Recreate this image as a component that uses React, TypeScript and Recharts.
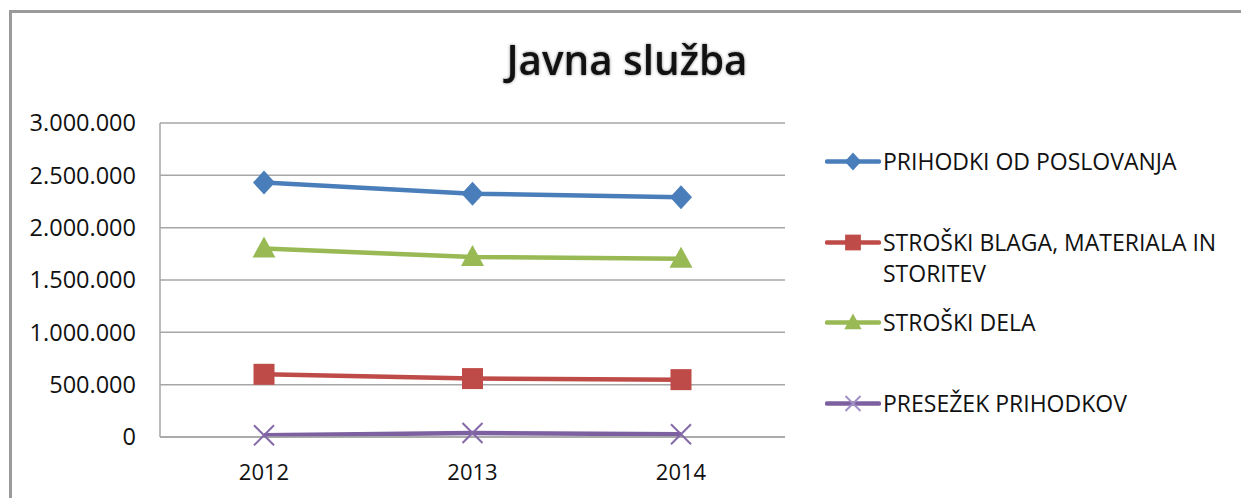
import React from "react";
import { LineChart, Line, XAxis, YAxis, CartesianGrid } from "recharts";

const years = ["2012", "2013", "2014"];
const prihodki = [2431000, 2325000, 2290000];
const stroskiBlaga = [599000, 558000, 548000];
const stroskiDela = [1800000, 1720000, 1704000];
const presezek = [16000, 38000, 26000];
const yTicks = [0, 500000, 1000000, 1500000, 2000000, 2500000, 3000000];

const FONT = "'Open Sans', 'Noto Sans', sans-serif";

type Kind = "diamond" | "square" | "triangle" | "cross";

const series: { key: string; name: string[]; color: string; kind: Kind }[] = [
  { key: "prihodki", name: ["PRIHODKI OD POSLOVANJA"], color: "#4a7ebb", kind: "diamond" },
  { key: "blago", name: ["STROŠKI BLAGA, MATERIALA IN", "STORITEV"], color: "#be4b48", kind: "square" },
  { key: "dela", name: ["STROŠKI DELA"], color: "#98b954", kind: "triangle" },
  { key: "presezek", name: ["PRESEŽEK PRIHODKOV"], color: "#7d60a0", kind: "cross" },
];

const data = years.map((y, i) => ({
  year: y,
  prihodki: prihodki[i],
  blago: stroskiBlaga[i],
  dela: stroskiDela[i],
  presezek: presezek[i],
}));

const fmt = (v: number) => String(v).replace(/\B(?=(\d{3})+(?!\d))/g, ".");

function Marker({ cx, cy, kind, color, s = 1 }: { cx: number; cy: number; kind: Kind; color: string; s?: number }) {
  if (kind === "diamond") {
    return (
      <polygon
        points={`${cx},${cy - 12 * s} ${cx + 11 * s},${cy} ${cx},${cy + 12 * s} ${cx - 11 * s},${cy}`}
        fill={color}
      />
    );
  }
  if (kind === "square") {
    return <rect x={cx - 10.5 * s} y={cy - 10.5 * s} width={21 * s} height={21 * s} fill={color} />;
  }
  if (kind === "triangle") {
    return (
      <polygon
        points={`${cx},${cy - 12 * s} ${cx + 11.5 * s},${cy + 9 * s} ${cx - 11.5 * s},${cy + 9 * s}`}
        fill={color}
      />
    );
  }
  const d = 10 * s;
  return (
    <g stroke={s < 1 ? "#a08fc4" : "#8468a8"} strokeWidth={2}>
      <line x1={cx - d} y1={cy - d} x2={cx + d} y2={cy + d} />
      <line x1={cx - d} y1={cy + d} x2={cx + d} y2={cy - d} />
    </g>
  );
}

function Legend() {
  return (
    <div style={{ position: "absolute", left: 825, top: 0 }}>
      {series.map((s, i) => {
        const cy = 161.5 + i * 80.5;
        return (
          <div key={s.key} style={{ position: "absolute", left: 0, top: cy - 15.5, width: 420 }}>
            <svg width={56} height={31} style={{ position: "absolute", left: 0, top: 0 }}>
              <line x1={2} y1={15.5} x2={54} y2={15.5} stroke={s.color} strokeWidth={4.5} strokeLinecap="round" />
              <Marker cx={28} cy={15.5} kind={s.kind} color={s.color} s={0.75} />
            </svg>
            <div
              style={{
                position: "absolute",
                left: 58,
                top: 0,
                fontFamily: FONT,
                fontSize: 23,
                lineHeight: "31px",
                color: "#111",
                whiteSpace: "nowrap",
              }}
            >
              {s.name.map((n) => (
                <div key={n}>{n}</div>
              ))}
            </div>
          </div>
        );
      })}
    </div>
  );
}

export default function App() {
  return (
    <div style={{ position: "absolute", left: 0, top: 0, width: 1241, height: 498, background: "#fff", overflow: "hidden" }}>
      <div
        style={{
          position: "absolute",
          left: 9,
          top: 10,
          width: 1241,
          height: 498,
          borderTop: "3px solid #9a9a9a",
          borderLeft: "3px solid #9a9a9a",
        }}
      />
      <svg width={1241} height={100} style={{ position: "absolute", left: 0, top: 0 }}>
        <text
          x={627}
          y={75}
          textAnchor="middle"
          textLength={241}
          lengthAdjust="spacingAndGlyphs"
          fontFamily={FONT}
          fontWeight={600}
          fontSize={41}
          fill="#111"
          style={{ filter: "drop-shadow(0 0 1.5px rgba(0,0,0,0.5))" }}
        >
          Javna služba
        </text>
      </svg>
      <div style={{ position: "absolute", left: 0, top: 0 }}>
        <LineChart width={1241} height={498} data={data} margin={{ top: 123, right: 456, bottom: 0, left: 0 }}>
          <CartesianGrid vertical={false} stroke="#a6a6a6" strokeWidth={1.5} />
          <XAxis
            dataKey="year"
            height={61}
            padding={{ left: 104, right: 104 }}
            axisLine={{ stroke: "#a6a6a6", strokeWidth: 1.5 }}
            tickLine={false}
            tickSize={6}
            tickMargin={21}
            tick={{ fontFamily: FONT, fontSize: 22, fill: "#111" }}
          />
          <YAxis
            width={160}
            domain={[0, 3000000]}
            ticks={yTicks}
            tickFormatter={fmt}
            axisLine={{ stroke: "#a6a6a6", strokeWidth: 1.5 }}
            tickLine={false}
            tickSize={6}
            tickMargin={18}
            tick={{ fontFamily: FONT, fontSize: 23.5, fill: "#111" }}
          />
          {series.map((s) => (
            <Line
              key={s.key}
              dataKey={s.key}
              type="linear"
              stroke={s.color}
              strokeWidth={4.5}
              isAnimationActive={false}
              activeDot={false}
              dot={(p: any) => <Marker key={`${s.key}-${p.index}`} cx={p.cx} cy={p.cy} kind={s.kind} color={s.color} />}
            />
          ))}
        </LineChart>
      </div>
      <Legend />
    </div>
  );
}
